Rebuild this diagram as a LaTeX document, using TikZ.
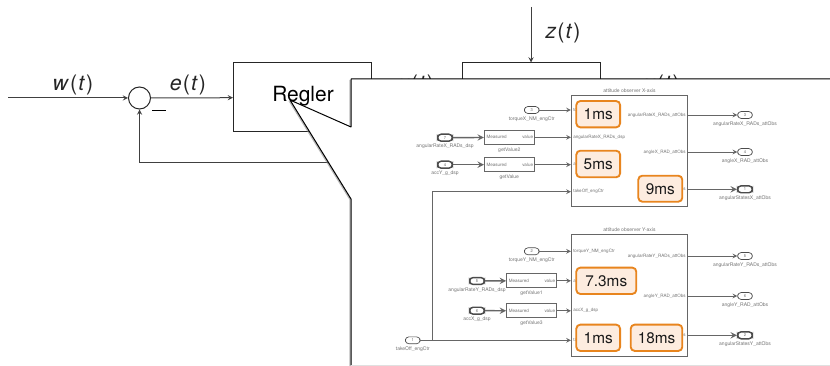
\documentclass[tikz,border=0pt]{standalone}
\usepackage{fontspec}
\setmainfont{TeX Gyre Heros}
\usetikzlibrary{shadows}

\definecolor{timeborder}{HTML}{E8851E}
\definecolor{timefill}{HTML}{FDECDF}

\newcommand{\sig}[1]{\textit{#1}\kern.8pt(\kern.8pt\textit{t}\kern.8pt)}

\tikzset{
    loopline/.style={draw=black!75, line width=0.75pt, -stealth},
    loopblock/.style={draw=black!85, line width=0.75pt, inner sep=0pt, minimum width=103.5pt, minimum height=51.75pt},
    looptext/.style={inner sep=0pt, font=\fontsize{16}{16}\selectfont, text=black!85},
    simline/.style={draw=black!60, line width=0.6pt, -stealth},
    simbus/.style={draw=black!60, line width=1.1pt, -stealth},
    simblock/.style={draw=black!60, line width=0.6pt, fill=white, inner sep=0pt, minimum width=37.5pt, minimum height=10.5pt},
    simobs/.style={draw=black!60, line width=0.8pt, inner sep=0pt, minimum width=87pt},
    port/.style={draw=black!70, line width=0.5pt, rounded corners=2.6pt, inner sep=0pt, minimum width=11pt, minimum height=5.2pt, font=\fontsize{3}{3}\selectfont, text=black!60},
    busport/.style={port, line width=1.1pt},
    tiny/.style={inner sep=0pt, font=\fontsize{3.4}{3.4}\selectfont, text=black!55},
    small/.style={inner sep=0pt, font=\fontsize{3.75}{3.75}\selectfont, text=black!55},
    timebox/.style={draw=timeborder, fill=timefill, line width=1.4pt, rounded corners=3pt, inner sep=0pt, font=\fontsize{11.5}{11.5}\selectfont, text=black!90},
}

\begin{document}
\begin{tikzpicture}[x=0.75pt, y=-0.75pt]
\useasboundingbox (0,0) rectangle (830,366);

% control loop
\coordinate (input) at (8,98);
\coordinate (disturb) at (531,7);
\coordinate (output) at (830,98);
\coordinate (feedback) at (660,163);
\node[draw=black!85, line width=0.75pt, circle, inner sep=0pt, minimum size=16.5pt] (sum) at (139.5,98) {};
\node[loopblock] (regler) at (302.5,97.5) {};
\node[inner sep=0pt, font=\fontsize{15.7}{15.7}\selectfont] (reglertext) at (303,96) {Regler};
\node[loopblock] (plant) at (531,97.5) {};
\draw[loopline] (input) -- (sum);
\draw[loopline] (sum) -- (regler);
\draw[loopline] (regler) -- (plant);
\draw[loopline] (plant) -- (output);
\draw[loopline] (disturb) -- (plant);
\draw[loopline] (feedback) -| (sum);
\node[fill=black, inner sep=0pt, minimum width=10.5pt, minimum height=1.3pt] (minus) at (159,110.5) {};
\node[looptext] (wlabel) at (73,85) {\sig{w}};
\node[looptext] (elabel) at (188,85) {\sig{e}};
\node[looptext] (ulabel) at (416,85) {\sig{u}};
\node[looptext] (ylabel) at (662,85) {\sig{y}};
\node[looptext] (zlabel) at (563,32.5) {\sig{z}};

% panel with pointer
\fill[white, drop shadow={shadow xshift=-1.2pt, shadow yshift=-0.6pt, opacity=0.55}]
    (830,79) -- (351,79) -- (351,127) -- (290,100) -- (351,199) -- (351,365) -- (830,365) -- cycle;
\draw[black, line width=0.75pt, line join=bevel] (830,79) -- (351,79) -- (351,127) -- (290,100) -- (351,199) -- (351,365);
\draw[black!12, line width=0.75pt] (351,365) -- (830,365);

% observer blocks
\node[simobs, minimum height=83.6pt, label={[small, yshift=1.6pt]above:attitude observer X-axis}] (obsX) at (629.5,150.8) {};
\node[simobs, minimum height=91.5pt, label={[small, yshift=1.6pt]above:attitude observer Y-axis}] (obsY) at (629.5,295.7) {};

% getValue blocks
\foreach \name/\x/\y/\text in {
    valueA/509.3/137.3/getValue2,
    valueB/509.3/164.7/getValue,
    valueC/531.5/280.8/getValue1,
    valueD/531.5/310.8/getValue3} {
    \node[simblock] (\name) at (\x,\y) {};
    \node[tiny, anchor=west] (\name in) at (\x-23,\y) {Measured};
    \node[tiny, anchor=east] (\name out) at (\x+24,\y) {value};
    \node[small] (\name text) at (\x,\y+12.5) {\text};
}

% ports
\foreach \name/\x/\y/\num/\text in {
    torqueX/531.7/110/3/torqueX\_NM\_engCtr,
    torqueY/531.7/251.3/2/torqueY\_NM\_engCtr,
    takeOff/412.7/340.3/1/takeOff\_engCtr,
    rateXout/745/115/3/angularRateX\_RADs\_attObs,
    angleXout/745/152/4/angleX\_RAD\_attObs,
    rateYout/745/256/5/angularRateY\_RADs\_attObs,
    angleYout/745/296/6/angleY\_RAD\_attObs} {
    \node[port] (\name) at (\x,\y) {\num};
    \node[small] (\name text) at (\x,\y+9) {\text};
}
\foreach \name/\x/\y/\num/\text in {
    rateXin/445/137.7/7/angularRateX\_RADs\_dsp,
    accYin/445/164.7/4/accY\_g\_dsp,
    rateYin/477/281/5/angularRateY\_RADs\_dsp,
    accXin/477/310.7/6/accX\_g\_dsp,
    statesXout/745/189.3/1/angularStatesX\_attObs,
    statesYout/745/335.3/2/angularStatesY\_attObs} {
    \node[busport] (\name) at (\x,\y) {\num};
    \node[small] (\name text) at (\x,\y+9) {\text};
}

% observer port texts
\foreach \name/\y/\text in {
    a/110/to,
    b/137.5/angularRateX\_RADs\_dsp,
    c/164.7/a,
    d/191.7/takeOff\_engCtr,
    e/251.3/torqueY\_NM\_engCtr,
    f/281/a,
    g/310.7/accX\_g\_dsp,
    h/340.3/ta} {
    \node[tiny, anchor=west] (in\name) at (573,\y) {\text};
}
\foreach \name/\y/\text in {
    a/115/angularRateX\_RADs\_attObs,
    b/152/angleX\_RAD\_attObs,
    c/189.3/s,
    d/256/angularRateY\_RADs\_attObs,
    e/296/angleY\_RAD\_attObs,
    f/335.3/s} {
    \node[tiny, anchor=east] (out\name) at (686,\y) {\text};
}

% timing boxes
\foreach \name/\x/\y/\w/\h/\text in {
    timeA/598.2/114.2/43.8/26.3/1ms,
    timeB/598.2/164/43.8/26.6/5ms,
    timeC/660.3/188.7/44/26/9ms,
    timeD/606.3/280.8/60/26.3/7.3ms,
    timeE/598.2/337.8/43.8/26.3/1ms,
    timeF/656.5/337.8/51.6/26.3/18ms} {
    \node[timebox, minimum width=0.75pt*\w, minimum height=0.75pt*\h] (\name) at (\x,\y) {\text};
}

% signals
\coordinate (branch) at (432.7,340.3);
\draw[simline] (torqueX) -- (torqueX -| obsX.west);
\draw[simline] (torqueY) -- (torqueY -| obsY.west);
\draw[simbus] (rateXin) -- (valueA);
\draw[simbus] (accYin) -- (valueB);
\draw[simbus] (rateYin) -- (valueC);
\draw[simbus] (accXin) -- (valueD);
\draw[simline] (valueA) -- (valueA -| obsX.west);
\draw[simline] (valueB) -- (valueB -| obsX.west);
\draw[simline] (valueC) -- (valueC -| obsY.west);
\draw[simline] (valueD) -- (valueD -| obsY.west);
\draw[simline] (takeOff) -- (takeOff -| obsY.west);
\draw[simline] (branch) |- (obsX.west |- ind.west);
\draw[simline] (rateXout -| obsX.east) -- (rateXout);
\draw[simline] (angleXout -| obsX.east) -- (angleXout);
\draw[simbus] (statesXout -| obsX.east) -- (statesXout);
\draw[simline] (rateYout -| obsY.east) -- (rateYout);
\draw[simline] (angleYout -| obsY.east) -- (angleYout);
\draw[simbus] (statesYout -| obsY.east) -- (statesYout);
\end{tikzpicture}
\end{document}
